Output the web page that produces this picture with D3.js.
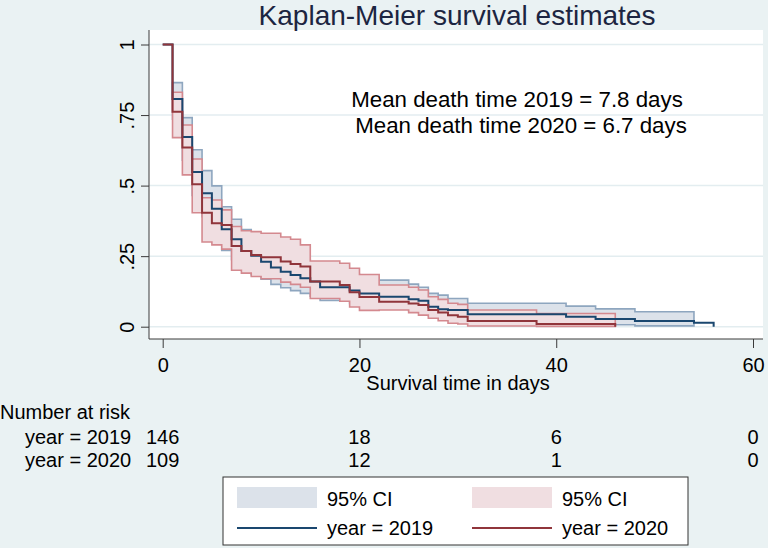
<!DOCTYPE html>
<html>
<head>
<meta charset="utf-8">
<script src="https://cdn.jsdelivr.net/npm/d3@7"></script>
<style>
  body { margin: 0; background: #eaf2f3; }
  text { font-family: "Liberation Sans", Arial, sans-serif; }
</style>
</head>
<body>
<div id="chart"></div>
<script>
var width = 768;
var height = 548;

// 2019 group: step times, KM estimate and 95% CI (null = no band)
var days2019 = [0, 1, 2, 3, 4, 5, 6, 7, 8, 9, 10, 11, 12, 13, 14, 15, 16, 19, 20, 22, 25, 26, 27, 28, 29, 31, 41, 44, 48, 54, 56];
var surv2019 = [1, .807, .672, .548, .473, .418, .345, .31, .268, .251, .23, .21, .195, .183, .172, .16, .14, .128, .118, .106, .097, .092, .071, .062, .059, .044, .035, .027, .02, .014, 0];
var lower2019 = [null, .735, .59, .465, .39, .337, .27, .237, .199, .184, .168, .15, .138, .128, .118, .108, .093, .082, .072, .062, .057, .052, .04, .034, .03, .014, .01, .007, .003, .003, null];
var upper2019 = [null, .865, .741, .627, .553, .499, .425, .381, .344, .326, .30, .28, .262, .25, .237, .223, .20, .186, .173, .165, .151, .14, .118, .112, .10, .083, .073, .063, .053, .053, null];

// 2020 group
var days2020 = [0, 1, 2, 3, 4, 5, 6, 7, 8, 9, 10, 12, 13, 14, 15, 18, 19, 20, 22, 25, 26, 27, 28, 29, 30, 31, 38, 46];
var surv2020 = [1, .762, .635, .505, .404, .367, .36, .286, .268, .254, .246, .231, .222, .213, .16, .148, .122, .105, .088, .082, .077, .059, .05, .041, .035, .02, .0095, 0];
var lower2020 = [null, .67, .538, .404, .30, .29, .275, .20, .19, .178, .17, .158, .15, .14, .10, .09, .07, .058, .059, .05, .041, .03, .021, .012, .0095, .0025, .001, .001];
var upper2020 = [null, .831, .715, .594, .457, .449, .414, .355, .34, .337, .331, .318, .31, .29, .233, .225, .207, .185, .148, .14, .13, .106, .097, .083, .079, .059, .047, .047];

var xTicks = [0, 20, 40, 60];
var yTicks = [0, .25, .5, .75, 1];
var yTickLabels = ["0", ".25", ".5", ".75", "1"];

var riskGroups = ["year = 2019", "year = 2020"];
var risk2019 = [146, 18, 6, 0];
var risk2020 = [109, 12, 1, 0];

var meanNotes = ["Mean death time 2019 = 7.8 days", "Mean death time 2020 = 6.7 days"];

var blueLine = "#1a476f", redLine = "#90353b";
var blueFill = "#dce2ea", redFill = "#f0dee1";
var blueEdge = "#8ea6bf", redEdge = "#d4898f";

var svg = d3.select("#chart").append("svg")
  .attr("width", width)
  .attr("height", height);

svg.append("rect").attr("width", width).attr("height", height).attr("fill", "#eaf2f3");

// plot region
var plotL = 149, plotR = 763, plotT = 30, plotB = 339;
svg.append("rect")
  .attr("x", plotL).attr("y", plotT)
  .attr("width", plotR - plotL).attr("height", plotB - plotT)
  .attr("fill", "#ffffff");

var xScale = d3.scaleLinear().domain([0, 60]).range([162.7, 753]);
var yScale = d3.scaleLinear().domain([0, 1]).range([326.7, 44.5]);

// gridlines
svg.append("g").selectAll("line")
  .data(yTicks).enter().append("line")
  .attr("x1", plotL).attr("x2", plotR)
  .attr("y1", d => yScale(d)).attr("y2", d => yScale(d))
  .attr("stroke", "#e3edf0").attr("stroke-width", 1.5);

function rows(days, s, lo, hi) {
  return days.map((d, i) => ({ t: d, s: s[i], lo: lo[i], hi: hi[i] }));
}
var data2019 = rows(days2019, surv2019, lower2019, upper2019);
var data2020 = rows(days2020, surv2020, lower2020, upper2020);

var band = d3.area()
  .defined(d => d.lo != null)
  .curve(d3.curveStepAfter)
  .x(d => xScale(d.t))
  .y0(d => yScale(d.lo))
  .y1(d => yScale(d.hi));

var km = d3.line()
  .curve(d3.curveStepAfter)
  .x(d => xScale(d.t))
  .y(d => yScale(d.s));

svg.append("path").attr("d", band(data2019))
  .attr("fill", blueFill).attr("stroke", blueEdge).attr("stroke-width", 1.6);
svg.append("path").attr("d", band(data2020))
  .attr("fill", redFill).attr("stroke", redEdge).attr("stroke-width", 1.6);

svg.append("path").attr("d", km(data2019))
  .attr("fill", "none").attr("stroke", blueLine).attr("stroke-width", 2);
svg.append("path").attr("d", km(data2020))
  .attr("fill", "none").attr("stroke", redLine).attr("stroke-width", 2);

// y axis
var yAxis = d3.axisLeft(yScale).tickValues(yTicks).tickSize(8).tickSizeOuter(0)
  .tickFormat((d, i) => yTickLabels[i]);
var gy = svg.append("g").attr("transform", "translate(" + plotL + ",0)").call(yAxis);
gy.select(".domain").attr("d", "M0," + plotT + "V" + plotB).attr("stroke", "#3a3a3a");
gy.selectAll(".tick line").attr("stroke", "#3a3a3a");
gy.selectAll(".tick text")
  .attr("font-size", 20).attr("fill", "#000")
  .attr("font-family", "Liberation Sans, Arial, sans-serif")
  .attr("x", 0).attr("dy", 0)
  .attr("text-anchor", "middle")
  .attr("transform", "translate(-15,0) rotate(-90)");

// x axis
var xAxis = d3.axisBottom(xScale).tickValues(xTicks).tickSize(9).tickSizeOuter(0);
var gx = svg.append("g").attr("transform", "translate(0," + plotB + ")").call(xAxis);
gx.select(".domain").attr("d", "M" + plotL + ",0H" + plotR).attr("stroke", "#3a3a3a");
gx.selectAll(".tick line").attr("stroke", "#3a3a3a");
gx.selectAll(".tick text")
  .attr("font-size", 20).attr("fill", "#000")
  .attr("font-family", "Liberation Sans, Arial, sans-serif")
  .attr("y", 33).attr("dy", 0);

svg.append("text")
  .attr("x", 458).attr("y", 390)
  .attr("text-anchor", "middle").attr("font-size", 20)
  .text("Survival time in days");

// title
svg.append("text")
  .attr("x", 457).attr("y", 25)
  .attr("text-anchor", "middle").attr("font-size", 28)
  .attr("fill", "#1c2541")
  .text("Kaplan-Meier survival estimates");

// mean notes
svg.selectAll(".note").data(meanNotes).enter().append("text")
  .attr("class", "note")
  .attr("x", (d, i) => i === 0 ? 517 : 521)
  .attr("y", (d, i) => 107 + i * 26)
  .attr("text-anchor", "middle").attr("font-size", 22.3)
  .text(d => d);

// number at risk table
svg.append("text").attr("x", 0).attr("y", 419).attr("font-size", 20).text("Number at risk");
var riskRows = [risk2019, risk2020];
riskGroups.forEach((g, r) => {
  var yb = 444 + r * 23;
  svg.append("text").attr("x", 25).attr("y", yb).attr("font-size", 20).text(g);
  svg.selectAll(".risk" + r).data(riskRows[r]).enter().append("text")
    .attr("x", (d, i) => xScale(xTicks[i]))
    .attr("y", yb)
    .attr("text-anchor", "middle").attr("font-size", 20)
    .text(d => d);
});

// legend
var lg = svg.append("g");
lg.append("rect").attr("x", 223).attr("y", 477).attr("width", 465).attr("height", 68)
  .attr("fill", "#fff").attr("stroke", "#333").attr("stroke-width", 1);
var legendItems = [
  { fill: blueFill, line: blueLine, label: "year = 2019", x: 237 },
  { fill: redFill, line: redLine, label: "year = 2020", x: 472 }
];
legendItems.forEach(it => {
  lg.append("rect").attr("x", it.x).attr("y", 487).attr("width", 80).attr("height", 21).attr("fill", it.fill);
  lg.append("text").attr("x", it.x + 90).attr("y", 506).attr("font-size", 20).text("95% CI");
  lg.append("line").attr("x1", it.x).attr("x2", it.x + 80).attr("y1", 528).attr("y2", 528)
    .attr("stroke", it.line).attr("stroke-width", 2);
  lg.append("text").attr("x", it.x + 90).attr("y", 535).attr("font-size", 20).text(it.label);
});
</script>
</body>
</html>
